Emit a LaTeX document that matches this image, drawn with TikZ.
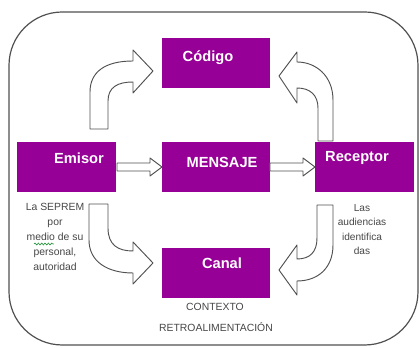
\documentclass[tikz,border=0pt]{standalone}
\usepackage{fontspec}
\setmainfont{Liberation Sans}
\usetikzlibrary{decorations.pathmorphing}
\definecolor{boxpurple}{RGB}{150,0,150}
\definecolor{linegray}{RGB}{80,80,80}
\definecolor{textgray}{RGB}{70,70,70}
\definecolor{spellgreen}{RGB}{40,150,60}
\begin{document}
\begin{tikzpicture}[x=0.75pt,y=-0.75pt,
  box/.style={fill=boxpurple,draw=none,inner sep=0pt,anchor=north west,minimum height=37.5pt},
  widebox/.style={box,minimum width=81pt},
  sidebox/.style={box,minimum width=74.25pt},
  boxtext/.style={text=white,font=\fontsize{11}{13}\selectfont\bfseries,inner sep=0pt},
  note/.style={text=textgray,font=\fontsize{7.8}{11.2}\selectfont,align=center,inner sep=0pt},
  rnote/.style={note,font=\fontsize{7.6}{10.7}\selectfont},
  blockarrow/.style={draw=linegray,fill=white,line width=0.7pt,line join=round}]
\useasboundingbox (0,0) rectangle (419,348);
% outer frame
\draw[draw=linegray,line width=0.9pt,rounded corners=40pt] (9,12) rectangle (418,345);

% boxes
\node[widebox] (codigo) at (162,38) {};
\node[sidebox] (emisor) at (17,142) {};
\node[widebox] (mensaje) at (162,142) {};
\node[sidebox] (receptor) at (315,142) {};
\node[widebox] (canal) at (162,248) {};

% box texts
\node[boxtext] (tcodigo) at (208,58) {Código};
\node[boxtext] (temisor) at (79,158) {Emisor};
\node[boxtext] (tmensaje) at (222,162) {MENSAJE};
\node[boxtext] (treceptor) at (357,158) {Receptor};
\node[boxtext] (tcanal) at (222,263) {Canal};

% straight block arrows
\draw[blockarrow] (117,163) -- (150,163) -- (150,158) -- (162,167) -- (150,176) -- (150,171) -- (117,171) -- cycle;
\draw[blockarrow] (270,163) -- (303,163) -- (303,158) -- (315,167) -- (303,176) -- (303,171) -- (270,171) -- cycle;

% curved block arrow Emisor -> Codigo
\draw[blockarrow] (90,129) -- (90,92) .. controls (90,72) and (105,61) .. (133,61)
  -- (133,50) -- (153,71) -- (133,93) -- (133,82)
  .. controls (118,82) and (108,87) .. (108,101) -- (108,129) -- cycle;

% curved block arrow Receptor -> Codigo
\draw[blockarrow] (333,141) -- (333,100) .. controls (333,76) and (316,62) .. (297,62)
  -- (297,52) -- (279,76) -- (297,103) -- (297,88)
  .. controls (310,88) and (318,95) .. (318,108) -- (318,141) -- cycle;

% curved block arrow Emisor -> Canal
\draw[blockarrow] (89,204) -- (89,240) .. controls (89,262) and (108,273) .. (133,273)
  -- (133,284) -- (153,263) -- (133,242) -- (133,251)
  .. controls (118,251) and (108,245) .. (108,228) -- (108,204) -- cycle;

% curved block arrow Receptor -> Canal
\draw[blockarrow] (333,205) -- (333,245) .. controls (333,268) and (318,281) .. (297,281)
  -- (297,295) -- (279,270) -- (297,245) -- (297,259)
  .. controls (310,259) and (317,252) .. (317,238) -- (317,205) -- cycle;

% notes
\node[note] (nemisor) at (55,237) {La SEPREM\\por\\medio de su\\personal,\\autoridad};
\draw[spellgreen,line width=0.5pt,decorate,decoration={snake,amplitude=0.7pt,segment length=2.5pt}] (34,244) -- (54,244);
\node[rnote] (nreceptor) at (362,229.5) {Las\\audiencias\\identifica\\das};
\node[note] (contexto) at (215,307) {CONTEXTO};
\node[note] (retro) at (216,327) {RETROALIMENTACIÓN};
\end{tikzpicture}
\end{document}
